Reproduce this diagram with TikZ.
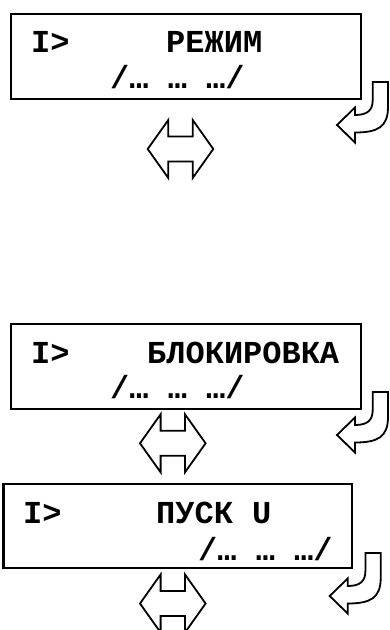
\documentclass[tikz,border=0pt]{standalone}
\usepackage{fontspec}
\setmonofont{Liberation Mono}
\begin{document}
\begin{tikzpicture}[x=1pt,y=-1pt,
  lcd/.style={draw=black,line width=2.4pt,fill=white},
  txt/.style={anchor=base west,inner sep=0pt,font=\fontsize{32}{32}\selectfont\ttfamily\bfseries},
  blockarrow/.style={draw=black,line width=1.8pt,fill=white,line join=miter},
  dblarrow/.pic={\draw[blockarrow] (-32.8,0) -- (-12.2,-29) -- (-12.2,-12.5) -- (12.2,-12.5) -- (12.2,-29) -- (32.8,0) -- (12.2,29) -- (12.2,12.5) -- (-12.2,12.5) -- (-12.2,29) -- cycle;},
  turnarrow/.pic={\draw[blockarrow] (0,0) -- (15.3,0) -- (15.3,25) .. controls (15.3,45) and (5,50.5) .. (-17.7,50.5) -- (-17.7,60.5) -- (-35.7,43) -- (-17.7,25.5) -- (-17.7,33) .. controls (-5,33) and (0,28) .. (0,18) -- cycle;}
]
\useasboundingbox (0,0) rectangle (389,630);
\clip (0,0) rectangle (389,630);
% boxes
\node[lcd,minimum width=350pt,minimum height=85pt,inner sep=0pt] (box1) at (185.8,56.5) {};
\node[lcd,minimum width=350pt,minimum height=85pt,inner sep=0pt] (box2) at (185.8,366.5) {};
\node[lcd,minimum width=348.5pt,minimum height=84pt,inner sep=0pt] (box3) at (177.6,526) {};
% texts
\node[txt] (t1a) at (31,52) {I>};
\node[txt] (t1b) at (166,52) {РЕЖИМ};
\node[txt] (t1c) at (110,88) {/… … …/};
\node[txt] (t2a) at (31,363) {I>};
\node[txt] (t2b) at (147,363) {БЛОКИРОВКА};
\node[txt] (t2c) at (110,398) {/… … …/};
\node[txt] (t3a) at (23,523) {I>};
\node[txt] (t3b) at (156,523) {ПУСК U};
\node[txt] (t3c) at (198,560) {/… … …/};
% double arrows
\pic at (180.5,149) {dblarrow};
\pic at (172.8,443.3) {dblarrow};
\pic at (172.8,603.5) {dblarrow};
% turn arrows
\pic at (372.7,82) {turnarrow};
\pic at (372.7,392) {turnarrow};
\pic at (365.4,553) {turnarrow};
\end{tikzpicture}
\end{document}
